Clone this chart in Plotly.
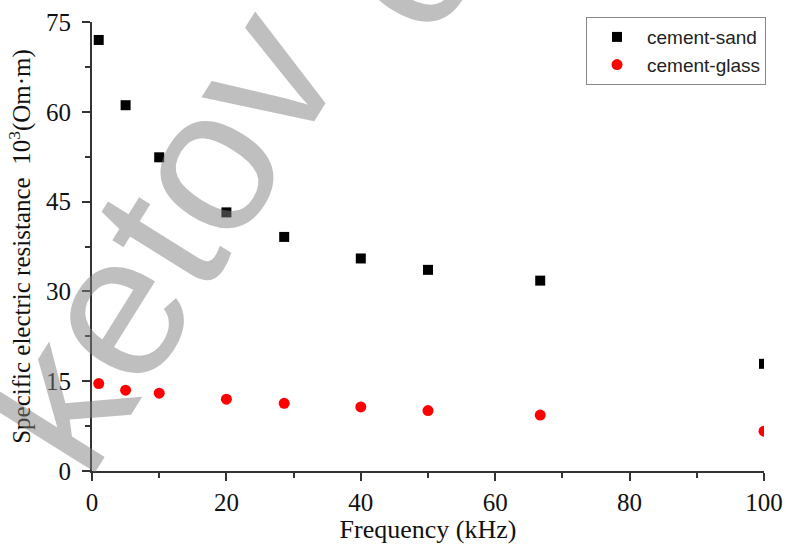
import plotly.graph_objects as go

freq = [1, 5, 10, 20, 28.6, 40, 50, 66.7, 100]
cement_sand = [72.0, 61.1, 52.4, 43.2, 39.1, 35.5, 33.6, 31.8, 17.9]
cement_glass = [14.6, 13.5, 13.0, 12.0, 11.3, 10.7, 10.1, 9.35, 6.65]

x_ticks = [0, 20, 40, 60, 80, 100]
y_ticks = [0, 15, 30, 45, 60, 75]

serif = "Liberation Serif, Times New Roman, serif"
sans = "Liberation Sans, Arial, sans-serif"
wm_color = "rgba(128,128,128,0.5)"

fig = go.Figure()
fig.add_trace(go.Scatter(x=freq, y=cement_sand, mode="markers", name="cement-sand",
                         marker=dict(symbol="square", size=10, color="black")))
fig.add_trace(go.Scatter(x=freq, y=cement_glass, mode="markers", name="cement-glass",
                         marker=dict(symbol="circle", size=11, color="#ff0000")))

axis_common = dict(
    showline=True, linecolor="#333333", linewidth=2, mirror=False,
    showgrid=False, zeroline=False, automargin=False,
    ticks="outside", ticklen=8, tickwidth=1.5, tickcolor="#333333",
    tickfont=dict(family=serif, size=25, color="#111111"),
)

fig.update_xaxes(range=[0, 100], tickvals=x_ticks, ticktext=[str(v) for v in x_ticks],
                 minor=dict(dtick=10, tick0=0, ticks="outside", ticklen=5, tickwidth=1.5, tickcolor="#333333"),
                 title=dict(text="Frequency (kHz)", font=dict(family=serif, size=26, color="#111111"), standoff=4),
                 **axis_common)
fig.update_yaxes(range=[0, 75], tickvals=y_ticks, ticktext=[str(v) for v in y_ticks],
                 minor=dict(dtick=7.5, tick0=0, ticks="outside", ticklen=5, tickwidth=1.5, tickcolor="#333333"),
                 title=dict(text="Specific electric resistance  10<sup>3</sup>(Om·m)",
                            font=dict(family=serif, size=25, color="#111111"), standoff=8),
                 ticklabelstandoff=6,
                 **axis_common)

# grey watermark seen on the reference picture
fig.add_annotation(text="ketov", xref="paper", yref="paper", x=0.0963, y=0.518,
                   xanchor="center", yanchor="middle", showarrow=False, textangle=-58,
                   font=dict(family=sans, size=205, color=wm_color))
fig.add_annotation(text="c", xref="paper", yref="paper", x=0.458, y=1.125,
                   xanchor="center", yanchor="middle", showarrow=False, textangle=-58,
                   font=dict(family=sans, size=200, color=wm_color))

fig.update_layout(
    width=786, height=544,
    margin=dict(l=92, r=22, t=22, b=73),
    paper_bgcolor="white", plot_bgcolor="white",
    showlegend=True,
    legend=dict(x=1.003, y=1.011, xanchor="right", yanchor="top",
                bordercolor="#888888", borderwidth=1, bgcolor="white",
                font=dict(family=sans, size=19, color="#222222"),
                itemwidth=50, tracegroupgap=0),
)

fig.write_html("out.html")
